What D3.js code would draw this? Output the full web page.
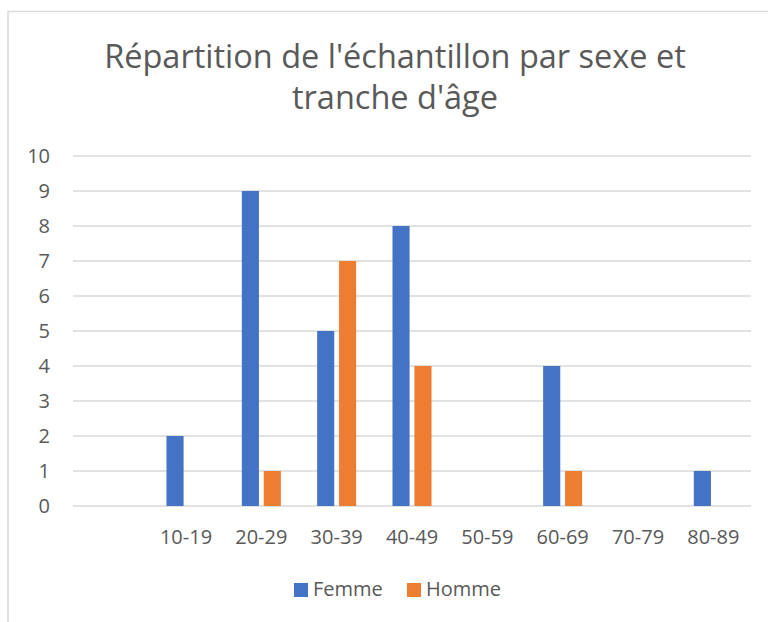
<!DOCTYPE html>
<html>
<head>
<meta charset="utf-8">
<script src="https://cdn.jsdelivr.net/npm/d3@7"></script>
<style>
  body { margin: 0; background: white; }
  text { font-family: 'Open Sans', sans-serif; fill: #595959; }
</style>
</head>
<body>
<svg id="chart"></svg>
<script>
let categories = ['', '10-19', '20-29', '30-39', '40-49', '50-59', '60-69', '70-79', '80-89'];
let series = ['Femme', 'Homme'];
let femme = [0, 2, 9, 5, 8, 0, 4, 0, 1];
let homme = [0, 0, 1, 7, 4, 0, 1, 0, 0];
let yTicks = [0, 1, 2, 3, 4, 5, 6, 7, 8, 9, 10];
let colors = ['#4472c4', '#ed7d31'];

function createGraph() {
  let width = 768;
  let height = 622;
  let margin = { top: 156, bottom: 116, left: 73, right: 17 };

  let svg = d3.select('#chart');
  svg.selectAll('*').remove();
  svg.attr('width', width).attr('height', height);

  // chart frame
  svg.append('rect')
    .attr('x', 8).attr('y', 11.5)
    .attr('width', 780).attr('height', 640)
    .attr('fill', 'white')
    .attr('stroke', '#d9d9d9')
    .attr('stroke-width', 1.5);

  let data = categories.map((c, i) => ({ cat: c, values: [femme[i], homme[i]] }));

  let yScale = d3.scaleLinear()
    .domain([0, 10])
    .range([height - margin.bottom, margin.top]);

  let x0 = d3.scaleBand()
    .domain(categories.map((c, i) => i))
    .range([margin.left, width - margin.right])
    .paddingInner(0.482)
    .paddingOuter(0.241);

  let x1 = d3.scaleBand()
    .domain(series.map((s, i) => i))
    .range([0, x0.bandwidth()])
    .paddingInner(0.22);

  // gridlines
  svg.append('g')
    .selectAll('line')
    .data(yTicks)
    .enter()
    .append('line')
    .attr('x1', margin.left)
    .attr('x2', width - margin.right)
    .attr('y1', d => yScale(d))
    .attr('y2', d => yScale(d))
    .attr('stroke', '#d9d9d9')
    .attr('stroke-width', 1.5);

  // y axis labels
  let yAxis = svg.append('g')
    .attr('transform', `translate(${margin.left - 23}, 0)`)
    .call(d3.axisLeft(yScale).tickValues(yTicks).tickSize(0).tickPadding(0));
  yAxis.select('.domain').remove();
  yAxis.selectAll('text')
    .style('font-size', '20px')
    .style('font-family', 'Open Sans')
    .attr('fill', '#595959');

  // x axis labels
  let xAxis = svg.append('g')
    .attr('transform', `translate(0, ${height - margin.bottom})`)
    .call(d3.axisBottom(x0).tickFormat(i => categories[i]).tickSize(0).tickPadding(24));
  xAxis.select('.domain').remove();
  xAxis.selectAll('text')
    .style('font-size', '20px')
    .style('font-family', 'Open Sans')
    .attr('fill', '#595959');

  // bars
  svg.append('g')
    .selectAll('g')
    .data(data)
    .enter()
    .append('g')
    .attr('transform', (d, i) => `translate(${x0(i)}, 0)`)
    .selectAll('rect')
    .data(d => d.values.map((v, k) => ({ v, k })).filter(e => e.v > 0))
    .enter()
    .append('rect')
    .attr('x', d => x1(d.k))
    .attr('y', d => yScale(d.v))
    .attr('width', x1.bandwidth())
    .attr('height', d => yScale(0) - yScale(d.v))
    .attr('fill', d => colors[d.k]);

  // title
  svg.append('text')
    .attr('x', 395)
    .attr('y', 68)
    .style('text-anchor', 'middle')
    .style('font-size', '32.5px')
    .text("Répartition de l'échantillon par sexe et");
  svg.append('text')
    .attr('x', 395)
    .attr('y', 109)
    .style('text-anchor', 'middle')
    .style('font-size', '32.5px')
    .text("tranche d'âge");

  // legend
  let legendX = [294, 407];
  let legend = svg.append('g');
  series.forEach((s, i) => {
    legend.append('rect')
      .attr('x', legendX[i]).attr('y', 583)
      .attr('width', 14).attr('height', 14)
      .attr('fill', colors[i]);
    legend.append('text')
      .attr('x', legendX[i] + 19).attr('y', 596)
      .style('font-size', '20px')
      .text(s);
  });
}

createGraph();
</script>
</body>
</html>
